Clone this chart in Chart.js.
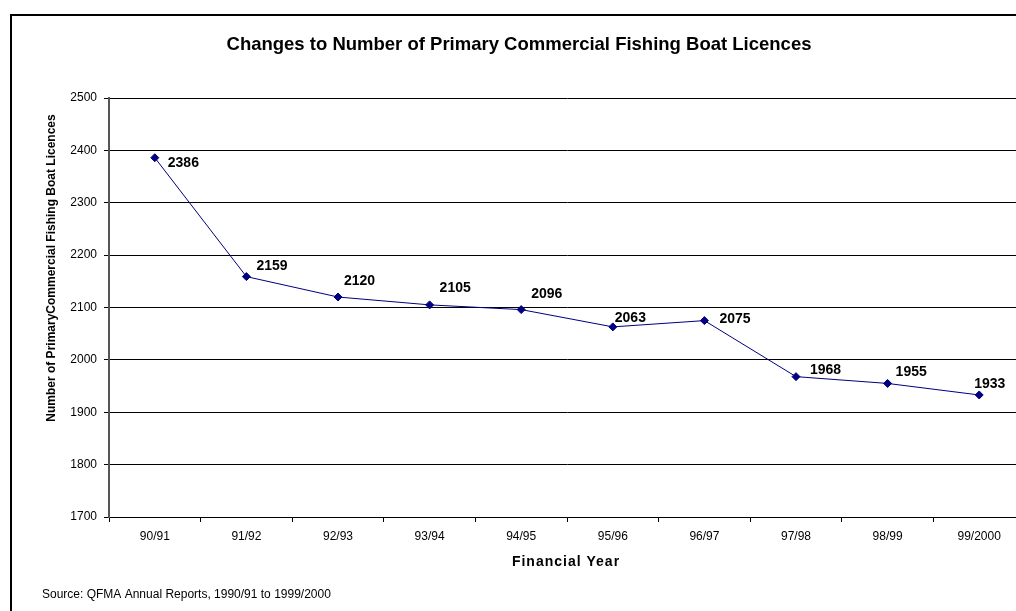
<!DOCTYPE html>
<html>
<head>
<meta charset="utf-8">
<script src="https://cdn.jsdelivr.net/npm/chart.js@4/dist/chart.umd.min.js"></script>
<style>
  html, body { margin: 0; padding: 0; background: #fff; overflow: hidden; }
  #wrap { position: relative; width: 1040px; height: 611px; }
</style>
</head>
<body>
<div id="wrap"><canvas id="licChart"></canvas></div>
<script>
// data
const years = ['90/91', '91/92', '92/93', '93/94', '94/95', '95/96', '96/97', '97/98', '98/99', '99/2000']
const licences = [2386, 2159, 2120, 2105, 2096, 2063, 2075, 1968, 1955, 1933]
const yMin = 1700
const yMax = 2500
const yStep = 100

const chartTitle = 'Changes to Number of Primary Commercial Fishing Boat Licences'
const yTitle = 'Number of PrimaryCommercial Fishing Boat Licences'
const xTitle = 'Financial Year'
const sourceNote = 'Source: QFMA Annual Reports, 1990/91 to 1999/2000'

// where each value label sits relative to its point (left edge, middle)
const labelOffsets = [[13, 5], [10, -10], [6, -16], [10, -17], [10, -15], [2, -9], [15, -1], [14, -6], [8, -11], [-5, -11]]

const FONT = '"Liberation Sans", Arial, sans-serif'

const decorations = {
    id: 'decorations',
    beforeDraw(chart) {
        const ctx = chart.ctx
        ctx.save()
        ctx.fillStyle = '#fff'
        ctx.fillRect(0, 0, chart.width, chart.height)
        // outer frame (right and bottom edge fall outside the picture)
        ctx.strokeStyle = '#000'
        ctx.lineWidth = 2
        ctx.beginPath()
        ctx.moveTo(11, 700)
        ctx.lineTo(11, 15)
        ctx.lineTo(1100, 15)
        ctx.stroke()
        ctx.restore()
    },
    afterDraw(chart) {
        const ctx = chart.ctx
        ctx.save()
        ctx.fillStyle = '#000'
        ctx.textBaseline = 'middle'

        ctx.font = 'bold 18.5px ' + FONT
        ctx.textAlign = 'center'
        ctx.fillText(chartTitle, 519, 45)

        ctx.save()
        ctx.font = 'bold 14px ' + FONT
        ctx.letterSpacing = '1px'
        ctx.fillText(xTitle, 566, 562)
        ctx.restore()

        ctx.save()
        ctx.translate(52, 268)
        ctx.rotate(-Math.PI / 2)
        ctx.font = 'bold 12px ' + FONT
        ctx.fillText(yTitle, 0, 0)
        ctx.restore()

        ctx.font = '12px ' + FONT
        ctx.textAlign = 'left'
        ctx.fillText(sourceNote, 42, 595)

        // value labels
        const meta = chart.getDatasetMeta(0)
        ctx.font = 'bold 14px ' + FONT
        meta.data.forEach((pt, i) => {
            const off = labelOffsets[i]
            ctx.fillText(String(licences[i]), pt.x + off[0], pt.y + off[1])
        })
        ctx.restore()
    }
}

const ctx = document.getElementById('licChart').getContext('2d')

new Chart(ctx, {
    type: 'line',
    data: {
        labels: years,
        datasets: [{
            label: 'Licences',
            data: licences,
            borderColor: '#000080',
            backgroundColor: '#000080',
            borderWidth: 1,
            pointStyle: 'rectRot',
            pointRadius: 4,
            pointBorderWidth: 1,
            pointBackgroundColor: '#000080',
            pointBorderColor: '#000080',
            tension: 0,
            fill: false
        }]
    },
    options: {
        responsive: true,
        maintainAspectRatio: false,
        animation: false,
        layout: { padding: { left: 10, right: 15, top: 98, bottom: 0 } },
        plugins: {
            legend: { display: false },
            title: { display: false },
            tooltip: { enabled: false }
        },
        scales: {
            x: {
                offset: true,
                grid: {
                    offset: true,
                    drawOnChartArea: false,
                    drawTicks: true,
                    tickLength: 5,
                    color: '#000'
                },
                border: { color: '#000', width: 1 },
                ticks: {
                    color: '#000',
                    font: { family: FONT, size: 12 },
                    padding: 7,
                    maxRotation: 0,
                    autoSkip: false
                },
                afterFit(scale) { scale.height = 94 }
            },
            y: {
                min: yMin,
                max: yMax,
                grid: {
                    color: '#000',
                    lineWidth: 1,
                    drawTicks: true,
                    tickLength: 5
                },
                border: { color: '#555', width: 2 },
                ticks: {
                    stepSize: yStep,
                    color: '#000',
                    font: { family: FONT, size: 12 },
                    padding: 7,
                    callback: (v) => String(v)
                },
                afterFit(scale) { scale.width = 99 }
            }
        }
    },
    plugins: [decorations]
})
</script>
</body>
</html>
